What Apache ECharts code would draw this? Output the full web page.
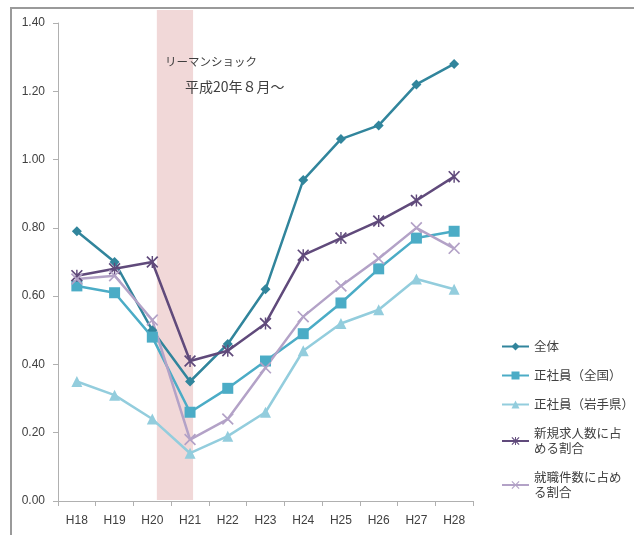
<!DOCTYPE html>
<html><head><meta charset="utf-8">
<script src="https://cdn.jsdelivr.net/npm/echarts@6/dist/echarts.min.js"></script>
<style>html,body{margin:0;padding:0;background:#fff}#c{width:634px;height:535px}</style>
</head><body><div id="c"></div>
<script>
const categories = ['H18','H19','H20','H21','H22','H23','H24','H25','H26','H27','H28'];
const yTicks = [0, 0.2, 0.4, 0.6, 0.8, 1.0, 1.2, 1.4];
const seriesNames = ['全体','正社員（全国）','正社員（岩手県）','新規求人数に占\nめる割合','就職件数に占め\nる割合'];
const zentai   = [0.79, 0.70, 0.50, 0.35, 0.46, 0.62, 0.94, 1.06, 1.10, 1.22, 1.28];
const seiZenkoku = [0.63, 0.61, 0.48, 0.26, 0.33, 0.41, 0.49, 0.58, 0.68, 0.77, 0.79];
const seiIwate = [0.35, 0.31, 0.24, 0.14, 0.19, 0.26, 0.44, 0.52, 0.56, 0.65, 0.62];
const shinki   = [0.66, 0.68, 0.70, 0.41, 0.44, 0.52, 0.72, 0.77, 0.82, 0.88, 0.95];
const shushoku = [0.65, 0.66, 0.53, 0.18, 0.24, 0.39, 0.54, 0.63, 0.71, 0.80, 0.74];
// Lehman shock period, in category units along the x axis
const shockBand = [2.62, 3.58];
const annotation = ['リーマンショック', '平成20年８月～'];

const colors = ['#31859c','#4bacc6','#93cddd','#604a7b','#b3a2c7'];
const X = 'path://M0,1L1,0L10,9L9,10Z M9,0L10,1L1,10L0,9Z';
const AST = 'path://M0,1L1,0L10,9L9,10Z M9,0L10,1L1,10L0,9Z M4.4,0L5.6,0L5.6,10L4.4,10Z';
const symbols = ['diamond','rect','triangle',AST,X];
const sizes = [10,11,11,12,12];
const dataSets = [zentai, seiZenkoku, seiIwate, shinki, shushoku];

const txt = '#404040';
const font = 'Liberation Sans, Noto Sans CJK JP, sans-serif';
const gridL = 58, gridR = 161, gridB = 34;

const lineSeries = dataSets.map((d, i) => ({
  name: seriesNames[i], type: 'line', data: d,
  xAxisIndex: 0, yAxisIndex: 0, z: 2,
  symbol: symbols[i], symbolSize: sizes[i], showAllSymbol: true,
  lineStyle: { color: colors[i], width: 2.5 },
  itemStyle: { color: colors[i] },
  emphasis: { disabled: true }, animation: false
}));

const option = {
  animation: false,
  textStyle: { fontFamily: font },
  grid: [
    { left: gridL, right: gridR, top: 23, bottom: gridB },
    { left: gridL, right: gridR, top: 10, bottom: gridB + 1 }
  ],
  xAxis: [
    { type: 'category', data: categories, gridIndex: 0, boundaryGap: true,
      axisLine: { lineStyle: { color: '#b0b0b0', width: 1 } },
      axisTick: { show: true, length: 5, lineStyle: { color: '#b0b0b0' } },
      axisLabel: { color: txt, fontSize: 12, margin: 14, fontFamily: font } },
    { type: 'value', gridIndex: 1, min: 0, max: categories.length, show: false }
  ],
  yAxis: [
    { type: 'value', gridIndex: 0, min: yTicks[0], max: yTicks[yTicks.length-1], interval: 0.2,
      splitLine: { show: false },
      axisLine: { show: true, lineStyle: { color: '#b0b0b0', width: 1 } },
      axisTick: { show: true, length: 5, lineStyle: { color: '#b0b0b0' } },
      axisLabel: { color: txt, fontSize: 12, margin: 13, fontFamily: font,
        formatter: v => v.toFixed(2) } },
    { type: 'value', gridIndex: 1, min: 0, max: 1, show: false }
  ],
  legend: {
    orient: 'vertical', left: 496, top: 334, itemGap: 14,
    itemWidth: 27, itemHeight: 10,
    textStyle: { color: txt, fontSize: 12.5, fontFamily: 'Noto Sans CJK JP, sans-serif', lineHeight: 15 },
    data: seriesNames
  },
  graphic: [
    { type: 'rect', shape: { x: 11, y: 8, width: 700, height: 600 },
      style: { fill: 'none', stroke: '#9a9a9a', lineWidth: 2 }, silent: true, z: 0 },
    { type: 'text', left: 165, top: 56,
      style: { text: annotation[0], fill: txt, font: '11.5px Noto Sans CJK JP, sans-serif' }, z: 10 },
    { type: 'text', left: 185, top: 80,
      style: { text: annotation[1], fill: txt, font: '14px Noto Sans CJK JP, sans-serif' }, z: 10 }
  ],
  series: lineSeries.concat([{
    type: 'line', xAxisIndex: 1, yAxisIndex: 1, data: [], z: 5, silent: true,
    markArea: { silent: true, itemStyle: { color: 'rgba(228,178,178,0.5)' },
      data: [[{ xAxis: shockBand[0], yAxis: 0 }, { xAxis: shockBand[1], yAxis: 1 }]] }
  }])
};
const chart = echarts.init(document.getElementById('c'), null, { renderer: 'canvas' });
chart.setOption(option);
</script></body></html>
